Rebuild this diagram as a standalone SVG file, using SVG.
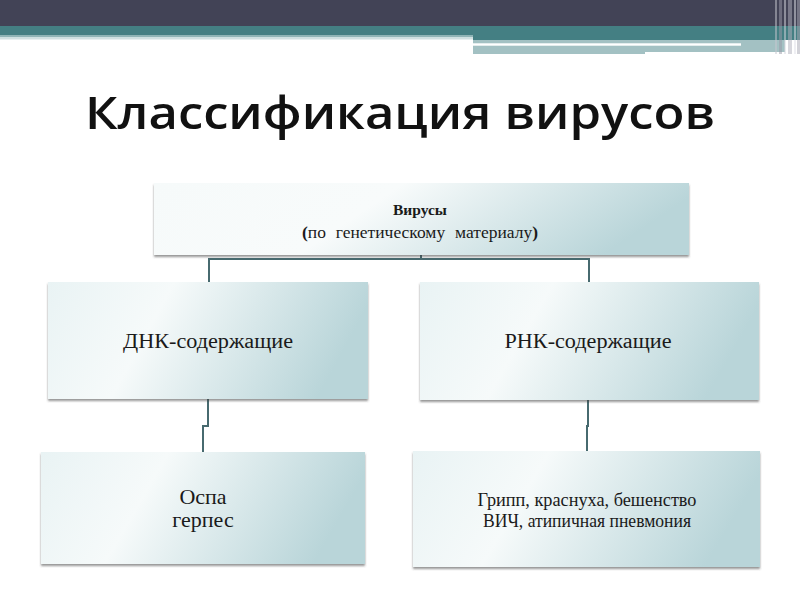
<svg xmlns="http://www.w3.org/2000/svg" width="800" height="600" viewBox="0 0 800 600">
  <defs>
    <linearGradient id="boxGrad" x1="0" y1="0" x2="1" y2="0.2">
      <stop offset="0" stop-color="#e9f3f4"/>
      <stop offset="0.38" stop-color="#f6fafa"/>
      <stop offset="1" stop-color="#b9d5d9"/>
    </linearGradient>
    <linearGradient id="topGrad" x1="0" y1="0" x2="1" y2="0.2">
      <stop offset="0" stop-color="#f6fafa"/>
      <stop offset="0.45" stop-color="#f8fbfb"/>
      <stop offset="1" stop-color="#b9d5d9"/>
    </linearGradient>
    <filter id="shadow" x="-5%" y="-10%" width="110%" height="125%">
      <feDropShadow dx="0" dy="2" stdDeviation="1.3" flood-color="#404040" flood-opacity="0.55"/>
    </filter>
    <style>
      .box { fill: url(#boxGrad); filter: url(#shadow); }
      .tbox { fill: url(#topGrad); filter: url(#shadow); }
      .lbl { font-family: "Liberation Serif", "Times New Roman", serif; fill: #1a1a1a; text-anchor: middle; }
      .conn { fill: none; stroke: #476a6f; stroke-width: 2; }
    </style>
  </defs>

  <rect width="800" height="600" fill="#ffffff"/>

  <!-- header bands -->
  <g id="header">
    <rect x="0" y="0" width="800" height="26" fill="#424356"/>
    <rect x="0" y="26" width="473" height="9" fill="#447f83"/>
    <rect x="0" y="35" width="473" height="2" fill="#8fb4b6"/>
    <rect x="0" y="37" width="473" height="2.5" fill="#cfe0e1"/>
    <rect x="473" y="26" width="327" height="14" fill="#447f83"/>
    <rect x="473" y="40" width="312" height="12" fill="#a3c1c3"/>
    <rect x="473" y="52" width="172" height="2" fill="#a3c1c3"/>
    <rect x="473" y="43.3" width="268" height="2.4" fill="#ffffff"/>
    <g opacity="0.5">
      <rect x="775" y="0" width="2" height="54" fill="#c8c8d0"/>
      <rect x="779" y="0" width="3" height="54" fill="#9a9aa8"/>
      <rect x="784" y="0" width="2" height="54" fill="#d8d8e0"/>
      <rect x="788" y="0" width="4" height="54" fill="#b0b0bc"/>
      <rect x="794" y="0" width="2" height="54" fill="#e0e0e8"/>
      <rect x="797" y="0" width="3" height="54" fill="#a8a8b4"/>
    </g>
  </g>

  <text id="title" x="400" y="129" font-family="'Open Sans', 'DejaVu Sans', sans-serif" font-weight="600" font-size="46" fill="#111111" text-anchor="middle" textLength="630" lengthAdjust="spacingAndGlyphs">Классификация вирусов</text>

  <g id="connectors">
    <path class="conn" d="M421,255 V259 M209,283 V259 H589 V283"/>
    <path class="conn" d="M208,399 V426 H203 V452"/>
    <path class="conn" d="M588,400 V426 H587 V451"/>
  </g>

  <g id="node-viruses">
    <rect class="tbox" x="154" y="183" width="535" height="72"/>
    <text class="lbl" x="420" y="215" font-size="15.5" font-weight="bold">Вирусы</text>
    <text class="lbl" x="420" y="238" font-size="16" word-spacing="5" textLength="236" lengthAdjust="spacingAndGlyphs"><tspan font-weight="bold">(</tspan>по генетическому материалу<tspan font-weight="bold">)</tspan></text>
  </g>

  <g id="node-dna">
    <rect class="box" x="48" y="282" width="320" height="117"/>
    <text class="lbl" x="208" y="348" font-size="20" textLength="170" lengthAdjust="spacingAndGlyphs">ДНК-содержащие</text>
  </g>

  <g id="node-rna">
    <rect class="box" x="420" y="282" width="339" height="118"/>
    <text class="lbl" x="588" y="348" font-size="20" textLength="167" lengthAdjust="spacingAndGlyphs">РНК-содержащие</text>
  </g>

  <g id="node-dna-examples">
    <rect class="box" x="41" y="452" width="324" height="112"/>
    <text class="lbl" x="203" y="504" font-size="22">Оспа</text>
    <text class="lbl" x="203" y="527" font-size="22">герпес</text>
  </g>

  <g id="node-rna-examples">
    <rect class="box" x="413" y="451" width="347" height="116"/>
    <text class="lbl" x="587" y="506" font-size="18" textLength="219" lengthAdjust="spacingAndGlyphs">Грипп, краснуха, бешенство</text>
    <text class="lbl" x="587" y="527" font-size="18" textLength="208" lengthAdjust="spacingAndGlyphs">ВИЧ, атипичная пневмония</text>
  </g>
</svg>
